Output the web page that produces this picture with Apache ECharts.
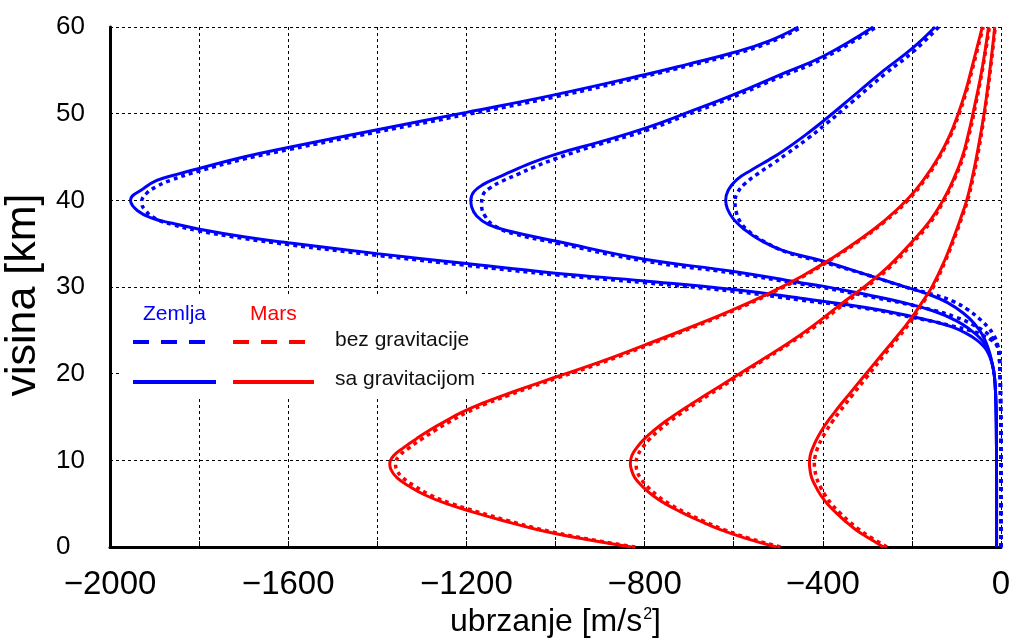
<!DOCTYPE html>
<html>
<head>
<meta charset="utf-8">
<script src="https://cdn.jsdelivr.net/npm/echarts@6/dist/echarts.min.js"></script>
<style>
html,body{margin:0;padding:0;background:#fff;}
#c{width:1012px;height:644px;}
</style>
</head>
<body>
<div id="c"></div>
<script>
// ---- tick labels ----
const xTickLabels = [-2000, -1600, -1200, -800, -400, 0];
const yTickLabels = [0, 10, 20, 30, 40, 50, 60];

// ---- Earth (Zemlja), [acceleration, altitude] ----
const earth1Grav = [[-10,0],[-10,8],[-10.5,14],[-12,17.5],[-15,19.8],[-20,21.2],[-28,22.3],[-38,23.1],[-55,23.9],[-80,24.7],[-110,25.4],[-150,26.0],[-200,26.6],[-300,27.6],[-450,28.7],[-600,29.7],[-800,30.7],[-1000,31.6],[-1200,32.7],[-1400,33.85],[-1600,35.1],[-1700,35.8],[-1802,36.7],[-1860,37.35],[-1903,37.9],[-1938,38.8],[-1954,40],[-1925,41.35],[-1895,42.3],[-1850,43.0],[-1802,43.65],[-1700,45.0],[-1600,46.1],[-1400,48.15],[-1200,50.15],[-1000,52.2],[-800,54.5],[-700,55.75],[-600,57.05],[-520,58.4],[-455,60]];
const earth1NoGrav = [[0,0],[0,12],[-1,17],[-2,20],[-4,22],[-8,23.1],[-20,23.8],[-40,24.4],[-70,25.0],[-110,25.5],[-150,26.0],[-200,26.5],[-300,27.5],[-450,28.5],[-600,29.5],[-800,30.5],[-1000,31.4],[-1200,32.5],[-1400,33.65],[-1600,34.9],[-1700,35.6],[-1802,36.5],[-1860,37.2],[-1898,37.9],[-1920,38.8],[-1929,39.8],[-1918,40.8],[-1895,41.6],[-1865,42.3],[-1802,43.35],[-1700,44.75],[-1600,45.85],[-1400,47.9],[-1200,49.9],[-1000,51.95],[-800,54.3],[-700,55.55],[-600,56.85],[-515,58.3],[-447,60]];

const earth2Grav = [[-10,0],[-10,8],[-10.5,14],[-12,17.5],[-15,19.8],[-20,21.2],[-27,22.4],[-33,23.1],[-45,24.0],[-70,25.1],[-100,26.1],[-150,27.2],[-227,28.3],[-300,29.1],[-400,30.1],[-450,30.5],[-600,31.8],[-800,33.2],[-1000,35.3],[-1100,36.4],[-1150,37.2],[-1177,38.2],[-1188,39.2],[-1190,40],[-1183,41.0],[-1160,41.9],[-1140,42.4],[-1100,43.3],[-1065,44.1],[-1000,45.3],[-900,46.75],[-800,48.3],[-700,50.2],[-600,52.2],[-500,54.4],[-400,56.6],[-287,60]];
const earth2NoGrav = [[0,0],[0,12],[-1,17],[-2,20],[-4,22],[-8,23.2],[-18,24.0],[-35,24.8],[-65,25.7],[-100,26.5],[-150,27.3],[-227,28.2],[-300,28.95],[-400,29.95],[-450,30.35],[-600,31.6],[-800,33.0],[-1000,35.1],[-1090,36.1],[-1135,37.0],[-1157,38.1],[-1166,39.5],[-1163,40.6],[-1145,41.5],[-1120,42.2],[-1085,43.0],[-1050,43.8],[-1000,44.8],[-900,46.5],[-800,48.0],[-700,49.95],[-600,51.95],[-500,54.15],[-400,56.35],[-280,60]];

const earth3Grav = [[-10,0],[-10,8],[-10.5,14],[-12,17.5],[-15,19.8],[-20,21.2],[-25,22.3],[-32,23.4],[-42,24.5],[-60,25.8],[-85,27.0],[-120,28.2],[-160,29.1],[-220,30.1],[-300,31.4],[-400,33.0],[-489,34.2],[-540,35.4],[-575,36.6],[-600,37.8],[-614,39.0],[-618,40],[-612,41.2],[-593,42.4],[-560,43.5],[-520,44.7],[-489,45.7],[-440,47.5],[-400,49.1],[-339,51.7],[-265,54.9],[-200,57.5],[-148,60]];
const earth3NoGrav = [[0,0],[0,12],[-1,17],[-2,20],[-4,22],[-8,23.4],[-16,24.4],[-30,25.4],[-50,26.4],[-75,27.4],[-110,28.4],[-150,29.1],[-215,30.0],[-295,31.3],[-395,32.8],[-480,34.0],[-530,35.2],[-563,36.3],[-585,37.5],[-595,38.8],[-597,39.8],[-590,41.0],[-573,42.0],[-545,43.1],[-510,44.3],[-480,45.4],[-432,47.2],[-393,48.8],[-333,51.4],[-260,54.6],[-196,57.2],[-140,60]];

// ---- Mars, [acceleration, altitude] ----
const mars1Grav = [[-830,0],[-945,1],[-1040,2],[-1115,3],[-1183,4],[-1245,5],[-1293,6],[-1328,7],[-1356,8],[-1370,9],[-1372,9.6],[-1364,10.5],[-1340,11.5],[-1312,12.5],[-1282,13.5],[-1248,14.5],[-1212,15.5],[-1168,16.5],[-1117,17.5],[-1062,18.5],[-1006,19.5],[-903,21.3],[-800,23.3],[-700,25.3],[-605,27.3],[-520,29.3],[-445,31.3],[-380,33.3],[-322,35.3],[-265,37.5],[-212,40],[-172,42.5],[-140,45],[-115,47.5],[-96,50],[-80,52.5],[-67,55],[-42,60]];
const mars1NoGrav = [[-821,0],[-936,1],[-1030,2],[-1104,3],[-1171,4],[-1233,5],[-1281,6],[-1315,7],[-1343,8],[-1357,9],[-1359,9.6],[-1351,10.5],[-1327,11.5],[-1299,12.5],[-1269,13.5],[-1236,14.5],[-1200,15.5],[-1157,16.5],[-1106,17.5],[-1052,18.5],[-996,19.5],[-894,21.3],[-792,23.3],[-693,25.3],[-599,27.3],[-515,29.3],[-441,31.3],[-377,33.3],[-319,35.3],[-262,37.5],[-209,40],[-169,42.5],[-138,45],[-113,47.5],[-94,50],[-78,52.5],[-65,55],[-40,60]];

const mars2Grav = [[-504,0],[-573,1],[-630,2],[-676,3],[-717,4],[-754,5],[-783,6],[-805,7],[-822,8],[-830,9],[-832,9.6],[-829,10.5],[-817,11.5],[-800,12.5],[-778,13.5],[-753,14.5],[-725,15.5],[-695,16.5],[-664,17.5],[-602,19.5],[-540,21.5],[-478,23.5],[-420,25.6],[-360,28.0],[-300,30.3],[-250,32.5],[-200,35.2],[-160,37.6],[-130,40],[-106,42.5],[-87,45],[-74,47.5],[-63,50],[-43,55],[-28,60]];
const mars2NoGrav = [[-495,0],[-565,1],[-622,2],[-668,3],[-709,4],[-745,5],[-773,6],[-794,7],[-810,8],[-818,9],[-819,9.6],[-816,10.5],[-804,11.5],[-788,12.5],[-767,13.5],[-743,14.5],[-716,15.5],[-687,16.5],[-657,17.5],[-596,19.5],[-535,21.5],[-474,23.5],[-416,25.5],[-356,27.9],[-297,30.2],[-247,32.4],[-198,35.1],[-158,37.5],[-128,40],[-104,42.5],[-85,45],[-72,47.5],[-61,50],[-42,55],[-26,60]];

const mars3Grav = [[-264,0],[-296,1],[-326,2],[-350,3],[-371,4],[-390,5],[-405,6],[-416,7],[-425,8],[-429,9],[-430,9.6],[-428.5,10.5],[-422,11.5],[-413,12.5],[-402,13.5],[-389,14.5],[-374,15.5],[-359,16.5],[-343,17.5],[-311,19.5],[-266,22.3],[-235,24.2],[-205,26.15],[-175,28.4],[-155,30],[-127,33],[-104,36],[-90,38],[-77,40],[-65,42.5],[-55,45],[-38,50],[-25,55],[-14,60]];
const mars3NoGrav = [[-256,0],[-289,1],[-318,2],[-342,3],[-363,4],[-381,5],[-395,6],[-406,7],[-414,8],[-418,9],[-419,9.6],[-417,10.5],[-411,11.5],[-402,12.5],[-391,13.5],[-378,14.5],[-364,15.5],[-349,16.5],[-334,17.5],[-303,19.5],[-260,22.3],[-230,24.2],[-201,26.15],[-172,28.4],[-152,30],[-125,33],[-102,36],[-88,38],[-75,40],[-63,42.5],[-53,45],[-37,50],[-24,55],[-13,60]];

const BLUE = '#0000ff', RED = '#ff0000';
const SANS = "'Liberation Sans',Arial,sans-serif";

function line(name, data, color, dashed) {
  return {
    type: 'line', name: name, data: data,
    symbol: 'none', showSymbol: false,
    smooth: 0.45,
    silent: true, animation: false,
    z: dashed ? 2 : 3,
    lineStyle: { color: color, width: dashed ? 3.5 : 3, type: dashed ? [4, 4] : 'solid', cap: 'butt' }
  };
}

function fmtX(v) {
  if (xTickLabels.indexOf(v) < 0) return '';
  return v < 0 ? '\u2212' + Math.abs(v) : String(v);
}

const chart = echarts.init(document.getElementById('c'), null, { renderer: 'canvas' });
chart.setOption({
  backgroundColor: '#fff',
  animation: false,
  grid: { left: 110, right: 11, top: 27, bottom: 97, containLabel: false, outerBoundsMode: 'none' },
  xAxis: {
    type: 'value', min: -2000, max: 0, interval: 200,
    name: '{n|ubrzanje [m/s}{s|2}{n|]}',
    nameLocation: 'middle', nameGap: 56,
    nameTextStyle: {
      rich: {
        n: { fontFamily: SANS, fontSize: 32, color: '#000' },
        s: { fontFamily: SANS, fontSize: 16, color: '#000', verticalAlign: 'top', padding: [1, 0, 0, 1] }
      }
    },
    axisLine: { show: true, onZero: false, lineStyle: { color: '#000', width: 3 } },
    axisTick: { show: true, inside: true, length: 6, lineStyle: { color: '#000', width: 1 } },
    axisLabel: { formatter: fmtX, fontFamily: SANS, fontSize: 33, color: '#000', margin: 21, showMinLabel: true, showMaxLabel: true },
    splitLine: { show: true, lineStyle: { color: '#000', width: 1, type: [3, 3] } }
  },
  yAxis: {
    type: 'value', min: 0, max: 60, interval: 10,
    name: 'visina [km]', nameLocation: 'middle', nameGap: 62,
    nameTextStyle: { fontFamily: SANS, fontSize: 43, color: '#000', padding: [0, 0, 0, -16] },
    axisLine: { show: true, onZero: false, lineStyle: { color: '#000', width: 3 } },
    axisTick: { show: false },
    axisLabel: {
      fontFamily: SANS, fontSize: 26, color: '#000', align: 'left', margin: 54,
      formatter: function (v) { return yTickLabels.indexOf(v) >= 0 ? String(v) : ''; }
    },
    splitLine: { show: true, lineStyle: { color: '#000', width: 1, type: [3, 3] } }
  },
  series: [
    line('Zemlja bez gravitacije 1', earth1NoGrav, BLUE, true),
    line('Zemlja bez gravitacije 2', earth2NoGrav, BLUE, true),
    line('Zemlja bez gravitacije 3', earth3NoGrav, BLUE, true),
    line('Mars bez gravitacije 1', mars1NoGrav, RED, true),
    line('Mars bez gravitacije 2', mars2NoGrav, RED, true),
    line('Mars bez gravitacije 3', mars3NoGrav, RED, true),
    line('Zemlja sa gravitacijom 1', earth1Grav, BLUE, false),
    line('Zemlja sa gravitacijom 2', earth2Grav, BLUE, false),
    line('Zemlja sa gravitacijom 3', earth3Grav, BLUE, false),
    line('Mars sa gravitacijom 1', mars1Grav, RED, false),
    line('Mars sa gravitacijom 2', mars2Grav, RED, false),
    line('Mars sa gravitacijom 3', mars3Grav, RED, false)
  ],
  graphic: [
    { type: 'rect', left: 120, top: 296, shape: { width: 360, height: 101 }, style: { fill: '#fff' }, z: 50 },
    { type: 'text', left: 143, top: 304, z: 60, style: { text: 'Zemlja', fill: BLUE, font: "21px 'Liberation Sans',Arial,sans-serif" } },
    { type: 'text', left: 250, top: 304, z: 60, style: { text: 'Mars', fill: RED, font: "21px 'Liberation Sans',Arial,sans-serif" } },
    { type: 'line', z: 60, shape: { x1: 133, y1: 342, x2: 210, y2: 342 }, style: { stroke: BLUE, lineWidth: 4, lineDash: [16, 12] } },
    { type: 'line', z: 60, shape: { x1: 233, y1: 342, x2: 309, y2: 342 }, style: { stroke: RED, lineWidth: 4, lineDash: [16, 12] } },
    { type: 'text', left: 335, top: 330, z: 60, style: { text: 'bez gravitacije', fill: '#111', font: "21px 'Liberation Sans',Arial,sans-serif" } },
    { type: 'line', z: 60, shape: { x1: 133, y1: 382, x2: 216, y2: 382 }, style: { stroke: BLUE, lineWidth: 4 } },
    { type: 'line', z: 60, shape: { x1: 233, y1: 382, x2: 314, y2: 382 }, style: { stroke: RED, lineWidth: 4 } },
    { type: 'text', left: 335, top: 369, z: 60, style: { text: 'sa gravitacijom', fill: '#111', font: "21px 'Liberation Sans',Arial,sans-serif" } }
  ]
});
</script>
</body>
</html>
